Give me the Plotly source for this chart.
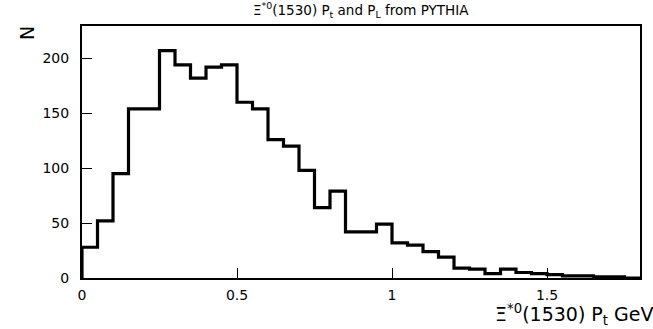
import numpy as np
import plotly.graph_objects as go

# Histogram of Xi*0(1530) Pt, bin width 0.05 GeV from 0 to 1.8
bin_start = 0.0
bin_width = 0.05
counts = [28, 52, 95, 154, 154, 207, 194, 182, 192, 194,
          160, 154, 126, 120, 98, 64, 79, 42, 42, 49,
          32, 30, 24, 19, 9, 8, 4, 8, 5, 4,
          3, 2, 2, 1, 1, 0]
x_ticks = [0, 0.5, 1, 1.5]
x_ticklabels = ["0", "0.5", "1", "1.5"]
y_ticks = [0, 50, 100, 150, 200]
y_ticklabels = ["0", "50", "100", "150", "200"]

edges = bin_start + bin_width * np.arange(len(counts) + 1)
xs = [edges[0]] + list(edges) + [edges[-1]]
ys = [0] + list(counts) + [0, 0]

fig = go.Figure()
fig.add_trace(go.Scatter(x=xs, y=ys, mode="lines",
                         line=dict(shape="hv", color="black", width=3.2),
                         hoverinfo="skip", showlegend=False))

font = "DejaVu Sans, Verdana, sans-serif"
fig.update_layout(
    width=653, height=329,
    margin=dict(l=82, r=13, t=26, b=51),
    paper_bgcolor="white", plot_bgcolor="white",
    showlegend=False,
    xaxis=dict(range=[0, 1.8], tickvals=x_ticks, ticktext=x_ticklabels,
               ticks="inside", ticklen=10, tickwidth=1, tickcolor="black",
               ticklabelstandoff=3,
               showgrid=False, zeroline=False, showline=True, linecolor="black", linewidth=2,
               mirror=True, tickfont=dict(family=font, size=14, color="black")),
    yaxis=dict(range=[0, 229.4], tickvals=y_ticks, ticktext=y_ticklabels,
               ticks="inside", ticklen=10, tickwidth=1, tickcolor="black",
               ticklabelstandoff=8,
               showgrid=False, zeroline=False, showline=True, linecolor="black", linewidth=2,
               mirror=True, tickfont=dict(family=font, size=14, color="black")),
    annotations=[
        dict(text="Ξ<sup>*0</sup>(1530) P<sub>t</sub> and P<sub>L</sub> from PYTHIA",
             xref="paper", yref="paper", x=0.5, y=1, yshift=16, xanchor="center", yanchor="middle",
             showarrow=False, font=dict(family=font, size=13.5, color="black")),
        dict(text="Ξ<sup>*0</sup>(1530) P<sub>t</sub> GeV",
             xref="paper", yref="paper", x=1, xshift=15, y=0, yshift=-21, xanchor="right", yanchor="top",
             showarrow=False, font=dict(family=font, size=19, color="black")),
        dict(text="N", textangle=-90,
             xref="paper", yref="paper", x=0, xshift=-55, y=1, yshift=-7, xanchor="center", yanchor="middle",
             showarrow=False, font=dict(family=font, size=19, color="black")),
    ],
)

fig.write_html("out.html")
